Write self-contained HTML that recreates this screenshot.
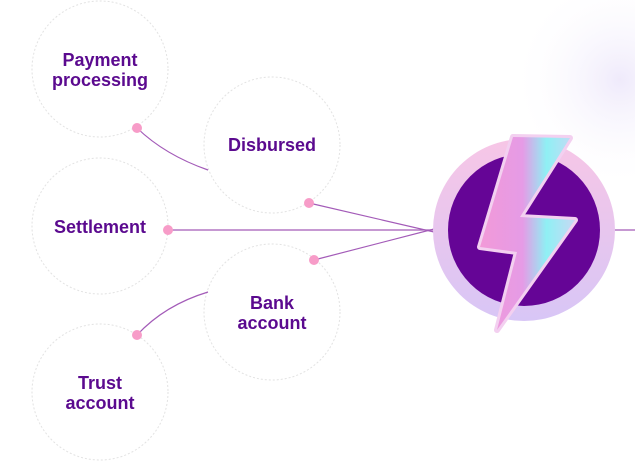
<!DOCTYPE html>
<html><head><style>
body{margin:0;width:635px;height:461px;overflow:hidden;background:#fff;font-family:"Liberation Sans",sans-serif}
</style></head><body>
<svg width="635" height="461" viewBox="0 0 635 461" xmlns="http://www.w3.org/2000/svg">
<defs>
<radialGradient id="glow" cx="0.5" cy="0.5" r="0.5">
<stop offset="0" stop-color="#efeafb"/><stop offset="1" stop-color="#fff" stop-opacity="0"/></radialGradient>
<linearGradient id="ring" x1="0" y1="0" x2="0" y2="1">
<stop offset="0" stop-color="#f7c6e6"/><stop offset="1" stop-color="#d8c6f6"/></linearGradient>
<linearGradient id="bolt" x1="0" y1="0" x2="1" y2="0">
<stop offset="0" stop-color="#f29ad8"/><stop offset="0.45" stop-color="#e59be6"/><stop offset="0.7" stop-color="#8ff0f4"/><stop offset="1" stop-color="#c8d8f4"/></linearGradient>
</defs>
<circle cx="620" cy="80" r="110" fill="url(#glow)"/>
<g fill="#fff" stroke="#e2e2e2" stroke-width="1" stroke-dasharray="2 2">
<circle cx="100" cy="69" r="68"/>
<circle cx="272" cy="145" r="68"/>
<circle cx="100" cy="226" r="68"/>
<circle cx="272" cy="312" r="68"/>
<circle cx="100" cy="392" r="68"/>
</g>
<g fill="none" stroke="#a35bb8" stroke-width="1.2">
<path d="M137 128 Q165 155 208 170"/>
<path d="M309 203 L434 232"/>
<path d="M168 230 L434 230"/>
<path d="M314 260 L434 229"/>
<path d="M137 335 Q165 305 208 292"/>
<path d="M612 230 L635 230"/>
</g>
<g fill="#f79cc8">
<circle cx="137" cy="128" r="5"/>
<circle cx="309" cy="203" r="5"/>
<circle cx="168" cy="230" r="5"/>
<circle cx="314" cy="260" r="5"/>
<circle cx="137" cy="335" r="5"/>
</g>
<circle cx="524" cy="230" r="91" fill="url(#ring)"/>
<circle cx="524" cy="230" r="76" fill="#650596"/>
<path d="M513 137 L570 138 L520 217 L575 220 L497 330 L517 252 L480 247 Z" fill="url(#bolt)" stroke="#f3d0f0" stroke-width="6" stroke-linejoin="round"/>
<path d="M513 137 L570 138 L520 217 L575 220 L497 330 L517 252 L480 247 Z" fill="url(#bolt)"/>
<g font-weight="bold" fill="#5b0a8f" font-size="18" text-anchor="middle">
<text x="100" y="66">Payment</text><text x="100" y="86">processing</text>
<text x="272" y="151">Disbursed</text>
<text x="100" y="233">Settlement</text>
<text x="272" y="309">Bank</text><text x="272" y="329">account</text>
<text x="100" y="389">Trust</text><text x="100" y="409">account</text>
</g>
</svg>
</body></html>
